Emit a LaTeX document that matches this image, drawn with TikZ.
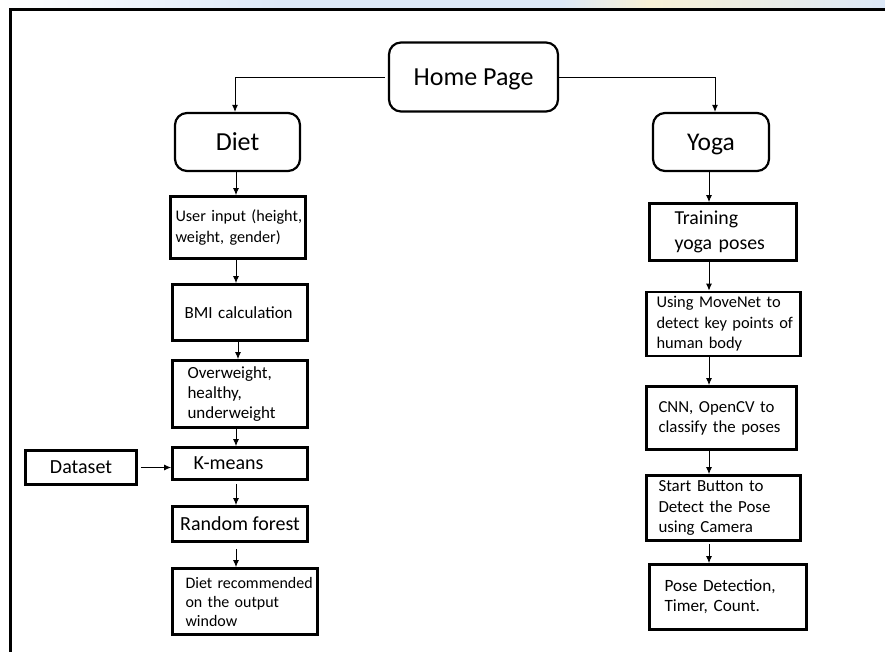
\documentclass[tikz,border=0pt]{standalone}
\usepackage{fontspec}
\setmainfont{Carlito}
\usetikzlibrary{arrows.meta}
\newcommand\myfs[2]{\fontsize{#1pt}{#2pt}\selectfont}
\definecolor{stripblue}{HTML}{DCE8F7}
\definecolor{stripyellow}{HTML}{F8F1D6}
\begin{document}
\begin{tikzpicture}[x=1pt,y=-1pt,
  rbox/.style={draw, line width=2.2pt, rounded corners=12pt, align=center, inner sep=0pt, text depth=0pt},
  sbox/.style={draw, line width=2.8pt, inner ysep=0pt, align=left},
  cbox/.style={draw, line width=2.8pt, inner sep=0pt, align=center},
  arr/.style={-{Latex[length=7pt,width=6pt]}, line width=0.9pt}
]
\useasboundingbox (0,0) rectangle (885,652);
\fill[white] (0,0) rectangle (885,652);
% faint strip above the frame
\shade[left color=white, right color=stripblue] (0,0) rectangle (280,8);
\shade[left color=stripblue, right color=stripblue] (280,0) rectangle (560,8);
\shade[left color=stripblue, right color=stripyellow] (560,0) rectangle (650,8);
\shade[left color=stripyellow, right color=stripblue] (650,0) rectangle (885,8);
% frame
\draw[line width=3pt] (10,652) -- (10,9.5) -- (885,9.5);

% top level
\node[rbox, minimum width=169pt, minimum height=69pt, font=\myfs{26}{30}] (home) at (473.5,77) {Home Page};
\node[rbox, minimum width=125pt, minimum height=58pt, font=\myfs{26}{30}] (diet) at (237.5,142) {Diet};
\node[rbox, minimum width=116pt, minimum height=58pt, font=\myfs{25.5}{30}] (yoga) at (711,142) {Yoga};

% diet branch
\node[sbox, minimum height=62pt, inner xsep=5pt, text width=125pt, font=\myfs{16.2}{21}] (uin) at (238,227.5)
  {\mbox{User input (height,}\\\mbox{weight, gender)}};
\node[sbox, minimum height=56pt, inner xsep=12pt, text width=111pt, font=\myfs{17}{21}] (bmi) at (240,312.5)
  {\mbox{BMI calculation}};
\node[sbox, minimum height=67pt, inner xsep=15pt, text width=105pt, font=\myfs{17}{20}] (ovw) at (240,394)
  {Overweight,\\healthy,\\\mbox{underweight}};
\node[sbox, minimum height=32pt, inner xsep=21pt, text width=93pt, font=\myfs{20}{22}] (kmeans) at (240,463.5)
  {K-means};
\node[cbox, minimum width=111pt, minimum height=34pt, font=\myfs{20}{22}] (dataset) at (81,467.5)
  {Dataset};
\node[cbox, minimum width=135pt, minimum height=35pt, font=\myfs{20}{22}] (rf) at (240,524)
  {Random forest};
\node[sbox, minimum height=66pt, inner xsep=13pt, text width=119pt, font=\myfs{16}{19}] (drec) at (245,601.5)
  {\mbox{Diet recommended}\\\mbox{on the output}\\window};

% yoga branch
\node[sbox, minimum height=57pt, inner xsep=25pt, text width=97pt, font=\myfs{19.8}{25}] (train) at (723,232)
  {Training\\\mbox{yoga poses}};
\node[sbox, minimum height=64pt, inner xsep=10pt, text width=134pt, font=\myfs{16.4}{20.5}] (move) at (723.5,324)
  {\mbox{Using MoveNet to}\\\mbox{detect key points of}\\\mbox{human body}};
\node[sbox, minimum height=63pt, inner xsep=12pt, text width=126pt, font=\myfs{16.8}{20}] (cnn) at (721.5,418)
  {\mbox{CNN, OpenCV to}\\\mbox{classify the poses}};
\node[sbox, minimum height=65pt, inner xsep=12pt, text width=130pt, font=\myfs{16.9}{20.5}] (start) at (723.5,508)
  {\mbox{Start Button to}\\\mbox{Detect the Pose}\\\mbox{using Camera}};
\node[sbox, minimum height=65pt, inner xsep=15pt, text width=127pt, font=\myfs{17.2}{20}] (pose) at (728,597)
  {\mbox{Pose Detection,}\\\mbox{Timer, Count.}};

% connectors
\draw[arr, shorten <=3pt] (home.west) -| ([xshift=-2.5pt]diet.north);
\draw[arr] (home.east) -| ([xshift=4pt]yoga.north);

\draw[arr] ([xshift=-1.5pt]diet.south) -- ([xshift=-1.5pt]diet.south |- uin.north);
\draw[arr] ([xshift=-2pt]uin.south) -- ([xshift=-2pt]uin.south |- bmi.north);
\draw[arr] ([xshift=-2pt]bmi.south) -- ([xshift=-2pt]bmi.south |- ovw.north);
\draw[arr] ([xshift=-4pt]ovw.south) -- ([xshift=-4pt]ovw.south |- kmeans.north);
\draw[arr, shorten <=3pt] (dataset.east) -- (dataset.east -| kmeans.west);
\draw[arr, shorten <=3pt] ([xshift=-4pt]kmeans.south) -- ([xshift=-4pt]kmeans.south |- rf.north);
\draw[arr, shorten <=6pt] ([xshift=-4pt]rf.south) -- ([xshift=-4pt]rf.south |- drec.north);

\draw[arr] ([xshift=-2pt]yoga.south) -- ([xshift=-2pt]yoga.south |- train.north);
\draw[arr] ([xshift=-14pt]train.south) -- ([xshift=-14pt]train.south |- move.north);
\draw[arr] ([xshift=-14.5pt]move.south) -- ([xshift=-14.5pt]move.south |- cnn.north);
\draw[arr] ([xshift=-12.5pt]cnn.south) -- ([xshift=-12.5pt]cnn.south |- start.north);
\draw[arr, shorten <=2pt] ([xshift=-14.5pt]start.south) -- ([xshift=-14.5pt]start.south |- pose.north);
\end{tikzpicture}
\end{document}
